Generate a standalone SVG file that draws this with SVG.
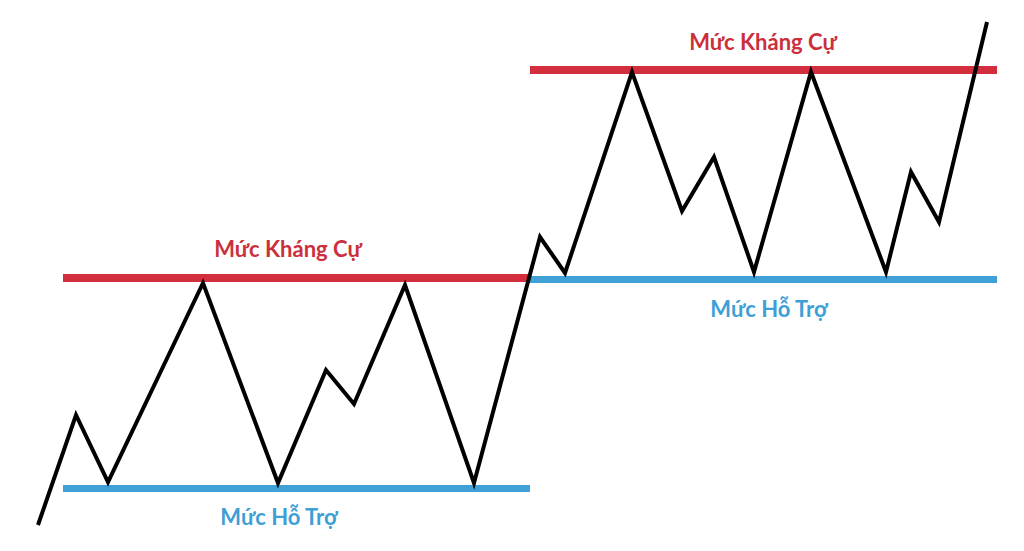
<svg xmlns="http://www.w3.org/2000/svg" width="1024" height="551" viewBox="0 0 1024 551">
<style>
.res{stroke:#d22e3e;stroke-width:8;fill:none}
.sup{stroke:#3fa1d8;stroke-width:7;fill:none}
.price{stroke:#000;stroke-width:4;fill:none;stroke-linejoin:miter;stroke-miterlimit:10}
.lr{font-family:Lato,"Open Sans",sans-serif;font-weight:bold;font-size:22px;fill:#cc2f3c;text-anchor:middle}
.lb{font-family:Lato,"Open Sans",sans-serif;font-weight:bold;font-size:22px;fill:#3d9fd6;text-anchor:middle}
</style>
<rect width="1024" height="551" fill="#fff"/>
<g id="levels">
<g id="res1"><line class="res" x1="63" y1="278" x2="530" y2="278"/><text class="lr" x="288" y="257">Mức Kháng Cự</text></g>
<g id="sup1"><line class="sup" x1="63" y1="488.5" x2="530" y2="488.5"/><text class="lb" x="279" y="525">Mức Hỗ Trợ</text></g>
<g id="res2"><line class="res" x1="530" y1="70" x2="997" y2="70"/><text class="lr" x="763" y="50">Mức Kháng Cự</text></g>
<g id="sup2"><line class="sup" x1="529" y1="279.5" x2="997" y2="279.5"/><text class="lb" x="769" y="317">Mức Hỗ Trợ</text></g>
</g>
<g id="connectors">
<polyline class="price" points="38,525 76,415 108,482 203,283 278,483 326,370 354,404 405,285 474,483 540,237 565,273 632,72 682,211 714,157 754,272 811,72 886,272 911,172 939,222 987,22"/>
</g>
</svg>
